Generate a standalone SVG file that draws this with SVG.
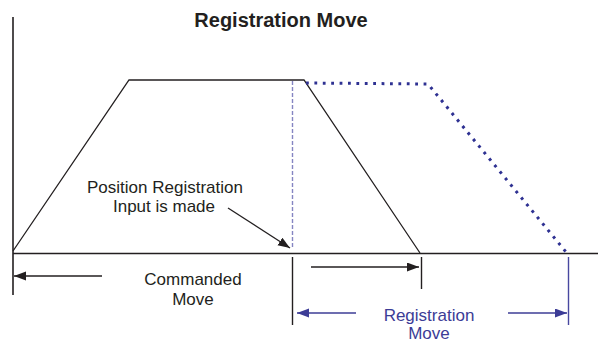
<svg xmlns="http://www.w3.org/2000/svg" width="598" height="342" viewBox="0 0 598 342">
  <style>
    text { font-family: "Liberation Sans", Arial, sans-serif; font-size: 17px; text-anchor: middle; }
    .title { font-size: 20px; font-weight: bold; fill: #231f20; }
    .lbl { fill: #231f20; }
    .blue { fill: #3c3c96; }
    .ax { stroke: #231f20; stroke-width: 1.6; fill: none; }
    .prof { stroke: #231f20; stroke-width: 1.3; fill: none; }
    .reg { stroke: #2e3192; stroke-width: 3; fill: none; stroke-dasharray: 2.8 5.6; }
    .trig { stroke: #8585c2; stroke-width: 1.4; fill: none; stroke-dasharray: 4 2; }
    .tk { stroke: #231f20; stroke-width: 1.4; }
    .tkb { stroke: #4848a0; stroke-width: 1.4; }
    .arr { stroke: #231f20; stroke-width: 1.3; fill: none; marker-end: url(#ah); }
    .arrb { stroke: #3c3c96; stroke-width: 1.3; fill: none; marker-end: url(#ahb); }
  </style>
  <defs>
    <marker id="ah" markerUnits="userSpaceOnUse" markerWidth="13" markerHeight="10" refX="12" refY="4.5" orient="auto">
      <path d="M0,0 L12,4.5 L0,9 Z" fill="#231f20"/>
    </marker>
    <marker id="ahb" markerUnits="userSpaceOnUse" markerWidth="13" markerHeight="10" refX="12" refY="4.5" orient="auto">
      <path d="M0,0 L12,4.5 L0,9 Z" fill="#3c3c96"/>
    </marker>
  </defs>

  <rect width="598" height="342" fill="#ffffff"/>

  <g id="title">
    <text class="title" x="281" y="27">Registration Move</text>
  </g>

  <g id="axes">
    <line class="ax" x1="13" y1="17" x2="13" y2="295"/>
    <line class="ax" x1="13" y1="253.5" x2="598" y2="253.5"/>
  </g>

  <g id="commanded-profile">
    <path class="prof" d="M13,251 L129,80 L304,80 L420,253"/>
  </g>

  <g id="registration-profile">
    <path class="reg" d="M306,83 L428,84 L566,252"/>
  </g>

  <g id="input-trigger">
    <line class="trig" x1="292.5" y1="81" x2="292.5" y2="249"/>
  </g>

  <g id="input-label">
    <text class="lbl" x="165" y="193">Position Registration</text>
    <text class="lbl" x="164" y="212">Input is made</text>
  </g>

  <g id="commanded-label">
    <text class="lbl" x="193" y="285">Commanded</text>
    <text class="lbl" x="193" y="305">Move</text>
  </g>

  <g id="registration-label">
    <text class="blue" x="429" y="321">Registration</text>
    <text class="blue" x="429" y="339">Move</text>
  </g>

  <g id="connectors">
    <line class="arr" x1="228" y1="208" x2="290" y2="248"/>
    <line class="arr" x1="102" y1="276" x2="14" y2="276"/>
    <line class="arr" x1="311" y1="267" x2="419" y2="267"/>
    <line class="arrb" x1="356" y1="313" x2="297" y2="313"/>
    <line class="arrb" x1="508" y1="313" x2="567" y2="313"/>
    <line class="tk" x1="292.5" y1="257" x2="292.5" y2="325"/>
    <line class="tk" x1="421.5" y1="257" x2="421.5" y2="289"/>
    <line class="tkb" x1="568.5" y1="257" x2="568.5" y2="325"/>
  </g>
</svg>
